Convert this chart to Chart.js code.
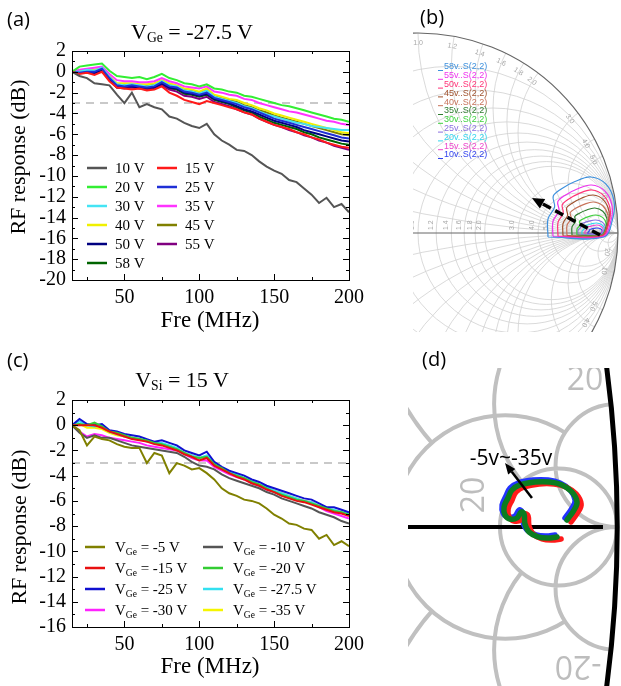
<!DOCTYPE html>
<html>
<head>
<meta charset="utf-8">
<script src="https://cdn.jsdelivr.net/npm/chart.js@4.4.0/dist/chart.umd.min.js"></script>
<style>
body { margin: 0; background: #fff; }
#fig { position: relative; width: 621px; height: 686px; overflow: hidden; background: #fff; }
canvas { position: absolute; }
.t { position: absolute; white-space: nowrap; line-height: 1; color: #000; }
.serif { font-family: "Liberation Serif", "Times New Roman", serif; }
.lab { font-family: "Open Sans", sans-serif; font-size: 20px; }
.sub { font-size: 62%; position: relative; top: 0.22em; }
</style>
</head>
<body>
<div id="fig">
  <canvas id="cA" width="370" height="335" style="left:0;top:0"></canvas>
  <canvas id="cB" width="208" height="332" style="left:413px;top:0"></canvas>
  <canvas id="cC" width="370" height="351" style="left:0;top:335px"></canvas>
  <canvas id="cD" width="213" height="318" style="left:408px;top:368px"></canvas>

  <div class="t lab" style="left:7px;top:9px">(a)</div>
  <div class="t lab" style="left:420px;top:7px">(b)</div>
  <div class="t lab" style="left:7px;top:350px">(c)</div>
  <div class="t lab" style="left:422px;top:349px">(d)</div>

  <div class="t serif" style="left:192px;top:21px;font-size:22px;transform:translateX(-50%)">V<span class="sub">Ge</span> = -27.5 V</div>
  <div class="t serif" style="left:210px;top:308px;font-size:23px;transform:translateX(-50%)">Fre (MHz)</div>
  <div class="t serif" style="left:18px;top:157px;font-size:22px;transform:translate(-50%,-50%) rotate(-90deg)">RF response (dB)</div>

  <div class="t serif" style="left:182px;top:369px;font-size:22px;transform:translateX(-50%)">V<span class="sub">Si</span> = 15 V</div>
  <div class="t serif" style="left:210px;top:654px;font-size:23px;transform:translateX(-50%)">Fre (MHz)</div>
  <div class="t serif" style="left:19px;top:527px;font-size:22px;transform:translate(-50%,-50%) rotate(-90deg)">RF response (dB)</div>
</div>

<script>
// ---- data: frequency axis (MHz) shared by (a) and (c)
const freqMHz = [15,20,25,30,35,40,45,50,55,60,65,70,75,80,85,90,95,100,105,110,115,120,125,130,135,140,145,150,155,160,165,170,175,180,185,190,195,200];
const freqTicks = [50, 100, 150, 200];
const refLevel = -3;

// ---- (a) V_Ge = -27.5 V, RF response (dB) for each V_Si
const rf10V = [0,-0.4,-0.6,-1.1,-1.2,-1.3,-2.2,-3.0,-2.0,-3.4,-3.1,-3.4,-3.6,-4.3,-4.5,-4.9,-5.2,-5.4,-5.0,-6.0,-6.6,-7.0,-7.5,-7.6,-8.0,-8.6,-9.1,-9.5,-9.8,-10.4,-10.6,-11.2,-11.8,-12.6,-12.1,-13.0,-12.7,-13.5];
const rf15V = [0,-0.2,-0.1,-0.3,0.0,-0.9,-1.5,-1.6,-1.7,-1.6,-1.8,-1.7,-1.4,-2.0,-2.3,-2.7,-2.9,-3.1,-2.8,-3.0,-3.2,-3.4,-3.6,-3.9,-4.1,-4.5,-4.8,-5.1,-5.3,-5.5,-5.8,-6.0,-6.3,-6.5,-6.8,-7.0,-7.2,-7.3];
const rf20V = [0,0.5,0.6,0.7,0.8,0.1,-0.4,-0.5,-0.6,-0.5,-0.7,-0.5,-0.2,-0.6,-0.8,-1.1,-1.2,-1.4,-1.2,-1.6,-1.7,-1.9,-2.0,-2.3,-2.4,-2.6,-2.8,-3.0,-3.2,-3.3,-3.5,-3.7,-3.9,-4.1,-4.3,-4.5,-4.6,-4.8];
const rf25V = [0,-0.1,0.0,0.0,0.3,-0.6,-1.3,-1.4,-1.3,-1.4,-1.5,-1.4,-1.0,-1.4,-1.5,-1.9,-2.0,-2.2,-2.0,-2.5,-2.7,-2.9,-3.1,-3.4,-3.6,-3.9,-4.2,-4.5,-4.7,-4.9,-5.1,-5.3,-5.5,-5.7,-5.9,-6.1,-6.3,-6.4];
const rf30V = [0,0.0,0.2,0.1,0.4,-0.5,-1.2,-1.3,-1.2,-1.3,-1.4,-1.3,-0.9,-1.3,-1.4,-1.8,-1.9,-2.1,-1.8,-2.4,-2.6,-2.8,-3.0,-3.3,-3.5,-3.8,-4.1,-4.3,-4.5,-4.7,-4.9,-5.0,-5.2,-5.3,-5.4,-5.5,-5.6,-5.6];
const rf35V = [0,0.2,0.3,0.4,0.5,-0.2,-0.8,-0.9,-0.9,-1.0,-1.0,-0.9,-0.6,-0.9,-1.1,-1.4,-1.5,-1.6,-1.4,-1.9,-2.0,-2.2,-2.3,-2.6,-2.7,-3.0,-3.2,-3.4,-3.6,-3.8,-3.9,-4.1,-4.3,-4.5,-4.7,-4.8,-5.0,-5.1];
const rf40V = [0,0.1,0.2,0.2,0.4,-0.4,-1.1,-1.1,-1.1,-1.2,-1.2,-1.1,-0.8,-1.1,-1.3,-1.6,-1.7,-1.9,-1.6,-2.2,-2.4,-2.6,-2.7,-3.0,-3.2,-3.5,-3.7,-4.0,-4.2,-4.4,-4.6,-4.8,-5.0,-5.2,-5.4,-5.6,-5.8,-5.9];
const rf45V = [0,0.0,0.1,0.1,0.3,-0.5,-1.2,-1.2,-1.2,-1.3,-1.3,-1.2,-0.9,-1.2,-1.4,-1.7,-1.8,-2.0,-1.8,-2.3,-2.5,-2.7,-2.9,-3.2,-3.4,-3.7,-3.9,-4.2,-4.4,-4.6,-4.8,-5.0,-5.2,-5.4,-5.6,-5.8,-6.0,-6.1];
const rf50V = [0,-0.1,0.0,-0.1,0.2,-0.7,-1.4,-1.4,-1.4,-1.5,-1.5,-1.5,-1.1,-1.5,-1.6,-2.0,-2.1,-2.3,-2.1,-2.6,-2.8,-3.0,-3.3,-3.6,-3.8,-4.1,-4.4,-4.7,-4.9,-5.1,-5.3,-5.6,-5.8,-6.0,-6.2,-6.4,-6.6,-6.7];
const rf55V = [0,-0.1,0.0,-0.2,0.1,-0.8,-1.5,-1.6,-1.5,-1.6,-1.7,-1.6,-1.3,-1.7,-1.9,-2.3,-2.4,-2.6,-2.4,-2.9,-3.1,-3.3,-3.6,-3.9,-4.1,-4.5,-4.8,-5.1,-5.3,-5.6,-5.8,-6.1,-6.3,-6.6,-6.8,-7.1,-7.3,-7.5];
const rf58V = [0,0.0,0.0,-0.2,0.1,-0.8,-1.5,-1.5,-1.4,-1.5,-1.6,-1.5,-1.2,-1.6,-1.7,-2.1,-2.2,-2.4,-2.2,-2.7,-2.9,-3.1,-3.4,-3.7,-3.9,-4.3,-4.6,-4.9,-5.1,-5.3,-5.5,-5.8,-6.0,-6.3,-6.5,-6.7,-6.9,-7.0];
const namesA = ['10 V','15 V','20 V','25 V','30 V','35 V','40 V','45 V','50 V','55 V','58 V'];
const seriesA = [rf10V, rf15V, rf20V, rf25V, rf30V, rf35V, rf40V, rf45V, rf50V, rf55V, rf58V];
const colorsA = ['#555555','#ff1a1a','#33ee33','#1f2fd6','#44e4f4','#ff33ff','#f0f000','#808000','#000080','#800080','#006400'];

// ---- (c) V_Si = 15 V, RF response (dB) for each V_Ge
const rfGe5   = [0,-0.4,-1.6,-0.9,-1.1,-1.2,-1.5,-1.7,-1.8,-1.8,-3.0,-2.2,-2.4,-3.8,-3.0,-3.2,-3.5,-3.4,-3.8,-4.3,-5.0,-5.4,-5.6,-5.9,-6.0,-6.2,-6.6,-7.1,-7.4,-7.8,-7.9,-8.2,-8.3,-9.0,-8.7,-9.5,-9.2,-9.6];
const rfGe10  = [0,-0.6,-1.0,-0.8,-1.0,-1.0,-1.2,-1.4,-1.6,-1.7,-1.8,-1.9,-2.0,-2.1,-2.2,-2.5,-2.9,-3.2,-3.3,-3.5,-3.9,-4.2,-4.4,-4.6,-4.8,-5.0,-5.3,-5.5,-5.8,-6.0,-6.2,-6.4,-6.6,-6.9,-7.1,-7.3,-7.6,-7.8];
const rfGe15  = [0,0.0,0.0,0.0,-0.2,-0.5,-0.7,-0.9,-1.1,-1.2,-1.3,-1.5,-1.6,-1.8,-2.0,-2.3,-2.5,-2.8,-2.6,-3.2,-3.5,-3.8,-4.1,-4.3,-4.6,-4.8,-5.1,-5.3,-5.6,-5.8,-6.0,-6.1,-6.3,-6.5,-6.7,-6.9,-7.0,-7.2];
const rfGe20  = [0,0.1,0.0,0.2,-0.1,-0.5,-0.6,-0.8,-1.0,-1.1,-1.2,-1.4,-1.5,-1.7,-1.9,-2.2,-2.5,-2.6,-2.5,-3.1,-3.4,-3.8,-4.0,-4.2,-4.5,-4.7,-5.0,-5.3,-5.5,-5.7,-5.9,-6.0,-6.2,-6.4,-6.6,-6.8,-6.9,-7.1];
const rfGe25  = [0,0.5,0.1,0.0,0.1,-0.4,-0.5,-0.7,-0.8,-0.9,-1.1,-1.3,-1.2,-1.4,-1.6,-2.0,-2.2,-2.4,-2.1,-2.9,-3.3,-3.6,-3.8,-4.0,-4.3,-4.5,-4.8,-5.0,-5.2,-5.4,-5.6,-5.8,-5.9,-6.2,-6.5,-6.5,-6.7,-6.9];
const rfGe275 = [0,0.3,0.0,-0.1,0.0,-0.5,-0.7,-0.9,-1.0,-1.1,-1.3,-1.4,-1.4,-1.6,-1.8,-2.2,-2.4,-2.6,-2.4,-3.0,-3.4,-3.7,-3.9,-4.2,-4.4,-4.7,-4.9,-5.2,-5.4,-5.6,-5.8,-6.0,-6.1,-6.4,-6.6,-6.7,-6.9,-7.0];
const rfGe30  = [0,-0.5,-0.9,-0.7,-0.8,-1.0,-1.1,-1.2,-1.3,-1.4,-1.6,-1.7,-1.8,-1.9,-2.0,-2.3,-2.6,-2.8,-2.8,-3.3,-3.6,-3.9,-4.1,-4.3,-4.6,-4.8,-5.1,-5.3,-5.5,-5.7,-5.9,-6.0,-6.1,-6.5,-6.8,-7.0,-7.2,-7.4];
const rfGe35  = [0,0.1,-0.2,-0.2,-0.3,-0.6,-0.8,-0.9,-1.0,-1.1,-1.3,-1.4,-1.5,-1.6,-1.9,-2.2,-2.4,-2.6,-2.5,-3.1,-3.5,-3.8,-4.0,-4.2,-4.5,-4.7,-5.0,-5.2,-5.4,-5.6,-5.8,-6.0,-6.1,-6.4,-6.6,-6.8,-6.9,-7.1];
const vGe = ['-5','-10','-15','-20','-25','-27.5','-30','-35'];
const seriesC = [rfGe5, rfGe10, rfGe15, rfGe20, rfGe25, rfGe275, rfGe30, rfGe35];
const colorsC = ['#808000','#555555','#e81010','#33cc33','#1010d0','#33e0f0','#ff22ff','#f5f500'];

// ---- (b) S(2,2) traces, [Re, Im] of reflection coefficient
const s22_58v = [[0.650,-0.020],[0.650,0.070],[0.683,0.130],[0.676,0.184],[0.716,0.220],[0.782,0.256],[0.865,0.280],[0.940,0.244],[0.980,0.160],[0.973,0.070],[0.930,-0.020],[0.650,-0.020]];
const s22_55v = [[0.675,-0.018],[0.675,0.059],[0.705,0.111],[0.699,0.157],[0.734,0.188],[0.793,0.219],[0.867,0.240],[0.935,0.209],[0.970,0.137],[0.964,0.059],[0.926,-0.018],[0.675,-0.018]];
const s22_50v = [[0.700,-0.016],[0.700,0.053],[0.726,0.100],[0.721,0.141],[0.752,0.169],[0.804,0.197],[0.869,0.215],[0.929,0.187],[0.960,0.123],[0.955,0.053],[0.921,-0.016],[0.700,-0.016]];
const s22_45v = [[0.725,-0.014],[0.725,0.047],[0.748,0.088],[0.743,0.125],[0.771,0.149],[0.817,0.174],[0.875,0.190],[0.927,0.166],[0.955,0.108],[0.950,0.047],[0.921,-0.014],[0.725,-0.014]];
const s22_40v = [[0.745,-0.012],[0.745,0.038],[0.766,0.072],[0.761,0.102],[0.786,0.122],[0.827,0.142],[0.878,0.155],[0.925,0.135],[0.950,0.088],[0.946,0.038],[0.919,-0.012],[0.745,-0.012]];
const s22_35v = [[0.770,-0.010],[0.770,0.031],[0.788,0.058],[0.784,0.082],[0.805,0.098],[0.840,0.114],[0.884,0.125],[0.924,0.109],[0.945,0.071],[0.941,0.031],[0.919,-0.010],[0.770,-0.010]];
const s22_30v = [[0.795,-0.010],[0.795,0.020],[0.810,0.040],[0.807,0.058],[0.824,0.070],[0.853,0.082],[0.889,0.090],[0.923,0.078],[0.940,0.050],[0.937,0.020],[0.918,-0.010],[0.795,-0.010]];
const s22_25v = [[0.800,-0.008],[0.800,0.014],[0.814,0.029],[0.811,0.042],[0.827,0.050],[0.854,0.059],[0.888,0.065],[0.919,0.056],[0.935,0.036],[0.932,0.014],[0.915,-0.008],[0.800,-0.008]];
const s22_20v = [[0.820,-0.008],[0.820,0.009],[0.831,0.021],[0.829,0.031],[0.842,0.038],[0.864,0.045],[0.892,0.050],[0.917,0.043],[0.930,0.027],[0.928,0.009],[0.914,-0.008],[0.820,-0.008]];
const s22_15v = [[0.835,-0.006],[0.835,0.008],[0.844,0.017],[0.842,0.025],[0.853,0.031],[0.871,0.036],[0.894,0.040],[0.914,0.034],[0.925,0.022],[0.923,0.008],[0.912,-0.006],[0.835,-0.006]];
const s22_10v = [[0.850,-0.005],[0.850,0.004],[0.857,0.010],[0.856,0.015],[0.864,0.019],[0.878,0.023],[0.896,0.025],[0.912,0.021],[0.920,0.013],[0.919,0.004],[0.910,-0.005],[0.850,-0.005]];
const namesB = ['58v..S(2,2)','55v..S(2,2)','50v..S(2,2)','45v..S(2,2)','40v..S(2,2)','35v..S(2,2)','30v..S(2,2)','25v..S(2,2)','20v..S(2,2)','15v..S(2,2)','10v..S(2,2)'];
const seriesB = [s22_58v, s22_55v, s22_50v, s22_45v, s22_40v, s22_35v, s22_30v, s22_25v, s22_20v, s22_15v, s22_10v];
const colorsB = ['#3d90dd','#ee33ee','#ff3377','#a0522d','#c8735a','#2e7d2e','#3fd13f','#8a6fe0','#33d5ee','#ee44cc','#3344ee'];
const rimLabels = ['1.0','1.2','1.4','1.6','1.8','2.0','3.0','4.0','5.0','10','20'];
const axisLabels = ['1.0','1.2','1.4','1.6','1.8','2.0','3.0','4.0','5.0'];
const gridR = [0.2,0.4,0.6,0.8,1,1.2,1.4,1.6,1.8,2,3,4,5,10,20];
const gridX = [0.2,0.4,0.6,0.8,1,1.2,1.4,1.6,1.8,2,3,4,5,10,20];

// ---- (d) zoomed S(2,2), V_Ge = -5 ... -35 V
const s22d_green = [[0.9593,0.0057],[0.9650,0.0138],[0.9675,0.0203],[0.9634,0.0285],[0.9552,0.0342],[0.9455,0.0366],[0.9333,0.0366],[0.9211,0.0342],[0.9146,0.0301],[0.9113,0.0236],[0.9081,0.0163],[0.9089,0.0098],[0.9129,0.0065],[0.9186,0.0073],[0.9219,0.0122],[0.9243,0.0106],[0.9251,0.0024],[0.9284,-0.0041],[0.9357,-0.0081],[0.9439,-0.0090],[0.9512,-0.0081]];
const s22d_red = [[0.9626,0.0041],[0.9683,0.0122],[0.9708,0.0187],[0.9667,0.0269],[0.9585,0.0326],[0.9488,0.0350],[0.9366,0.0350],[0.9244,0.0326],[0.9179,0.0285],[0.9146,0.0220],[0.9114,0.0147],[0.9122,0.0082],[0.9162,0.0049],[0.9219,0.0057],[0.9252,0.0106],[0.9276,0.0090],[0.9284,0.0008],[0.9317,-0.0057],[0.9390,-0.0097],[0.9472,-0.0106],[0.9545,-0.0097]];
const s22d_blue = [[0.9577,0.0073],[0.9634,0.0154],[0.9659,0.0219],[0.9618,0.0301],[0.9536,0.0358],[0.9439,0.0382],[0.9317,0.0382],[0.9195,0.0358],[0.9130,0.0317],[0.9097,0.0252],[0.9065,0.0179],[0.9073,0.0114],[0.9113,0.0081],[0.9170,0.0089],[0.9203,0.0138],[0.9227,0.0122],[0.9235,0.0040],[0.9268,-0.0025],[0.9341,-0.0065],[0.9423,-0.0074],[0.9496,-0.0065]];

const serif = '"Liberation Serif", "Times New Roman", serif';

function drawArrow(ctx, x1, y1, x2, y2, lw, dash, hl, hw) {
  const ang = Math.atan2(y2 - y1, x2 - x1);
  const bx = x2 - hl * Math.cos(ang), by = y2 - hl * Math.sin(ang);
  ctx.save();
  ctx.strokeStyle = '#000'; ctx.fillStyle = '#000'; ctx.lineWidth = lw;
  ctx.setLineDash(dash);
  ctx.beginPath(); ctx.moveTo(x1, y1); ctx.lineTo(bx, by); ctx.stroke();
  ctx.setLineDash([]);
  ctx.beginPath();
  ctx.moveTo(x2, y2);
  ctx.lineTo(bx + hw / 2 * Math.sin(ang), by - hw / 2 * Math.cos(ang));
  ctx.lineTo(bx - hw / 2 * Math.sin(ang), by + hw / 2 * Math.cos(ang));
  ctx.closePath(); ctx.fill();
  ctx.restore();
}

// frame, inward ticks, dashed -3 dB line, legend for (a) and (c)
const rfPlugin = {
  id: 'rf',
  beforeDatasetsDraw(chart, args, o) {
    const {ctx, chartArea: a, scales: {y}} = chart;
    const py = y.getPixelForValue(refLevel);
    ctx.save();
    ctx.strokeStyle = '#b8b8b8'; ctx.lineWidth = 1.6; ctx.setLineDash([8, 6]);
    ctx.beginPath(); ctx.moveTo(a.left, py); ctx.lineTo(a.right, py); ctx.stroke();
    ctx.restore();
  },
  afterDatasetsDraw(chart, args, o) {
    const {ctx, chartArea: a, scales: {x, y}} = chart;
    ctx.save();
    ctx.strokeStyle = '#000'; ctx.lineWidth = 1;
    ctx.strokeRect(a.left + 0.5, a.top + 0.5, a.right - a.left, a.bottom - a.top);
    ctx.beginPath();
    for (let f = 25; f <= 200; f += 25) {
      const px = Math.round(x.getPixelForValue(f)) + 0.5;
      const len = f % 50 === 0 ? 6 : 3;
      ctx.moveTo(px, a.bottom); ctx.lineTo(px, a.bottom - len);
      ctx.moveTo(px, a.top); ctx.lineTo(px, a.top + len);
    }
    for (let v = y.min; v <= y.max; v += 1) {
      const py = Math.round(y.getPixelForValue(v)) + 0.5;
      const len = v % 2 === 0 ? 6 : 3;
      ctx.moveTo(a.left, py); ctx.lineTo(a.left + len, py);
      ctx.moveTo(a.right, py); ctx.lineTo(a.right - len, py);
    }
    ctx.stroke();

    // legend, two columns, row-major order
    chart.data.datasets.forEach((ds, i) => {
      const col = i % 2, row = Math.floor(i / 2);
      const ly = o.legY + row * o.legDy;
      ctx.strokeStyle = ds.borderColor; ctx.lineWidth = 2.5;
      ctx.beginPath(); ctx.moveTo(o.legX[col], ly); ctx.lineTo(o.legX[col] + 20, ly); ctx.stroke();
      ctx.fillStyle = '#000'; ctx.textBaseline = 'alphabetic'; ctx.textAlign = 'left';
      let tx = o.textX[col];
      const base = ly + 5;
      if (o.sub) {
        ctx.font = '15px ' + serif;
        ctx.fillText('V', tx, base); tx += ctx.measureText('V').width;
        ctx.font = '9.5px ' + serif;
        ctx.fillText('Ge', tx, base + 3); tx += ctx.measureText('Ge').width;
        ctx.font = '15px ' + serif;
        ctx.fillText(' = ' + vGe[i] + ' V', tx, base);
      } else {
        ctx.font = '15px ' + serif;
        ctx.fillText(ds.label, tx, base);
      }
    });
    ctx.restore();
  }
};

function rfChart(id, series, names, colors, yMin, yMax, topPad, xH, leg) {
  return new Chart(document.getElementById(id), {
    type: 'line',
    data: {
      datasets: series.map((s, i) => ({
        label: names[i],
        data: freqMHz.map((f, j) => ({x: f, y: s[j]})),
        borderColor: colors[i],
        borderWidth: 2,
        pointRadius: 0,
        tension: 0
      }))
    },
    options: {
      responsive: false,
      animation: false,
      events: [],
      layout: {padding: {top: topPad, right: 17, left: 0, bottom: 0}},
      scales: {
        x: {
          type: 'linear', min: 15, max: 200,
          grid: {display: false, drawTicks: false},
          border: {display: false},
          afterBuildTicks: s => { s.ticks = freqTicks.map(v => ({value: v})); },
          afterFit: s => { s.height = xH; },
          ticks: {autoSkip: false, maxRotation: 0, padding: 6, color: '#000', font: {family: serif, size: 20}}
        },
        y: {
          min: yMin, max: yMax,
          grid: {display: false, drawTicks: false},
          border: {display: false},
          afterFit: s => { s.width = 72; },
          ticks: {stepSize: 2, autoSkip: false, padding: 6, color: '#000', font: {family: serif, size: 20}}
        }
      },
      plugins: {legend: {display: false}, tooltip: {enabled: false}, rf: leg}
    },
    plugins: [rfPlugin]
  });
}

rfChart('cA', seriesA, namesA, colorsA, -20, 2, 51, 55,
  {legX: [87, 157], textX: [115, 185], legY: 168, legDy: 19, sub: false});
rfChart('cC', seriesC, vGe.map(v => 'VGe = ' + v + ' V'), colorsC, -16, 2, 65, 59,
  {legX: [85, 203], textX: [115, 233], legY: 212, legDy: 21, sub: true});

// ---- Smith chart (b)
const smithB = {
  id: 'smithB',
  beforeDatasetsDraw(chart) {
    const {ctx, scales: {x, y}} = chart;
    const u = x.getPixelForValue(1) - x.getPixelForValue(0);
    const P = (gx, gy) => [x.getPixelForValue(gx), y.getPixelForValue(gy)];
    const [ox, oy] = P(0, 0);
    ctx.save();
    ctx.beginPath(); ctx.arc(ox, oy, u, 0, 2 * Math.PI); ctx.clip();
    ctx.strokeStyle = '#d0d0d0'; ctx.lineWidth = 0.8;
    gridR.forEach(r => {
      const [cx, cy] = P(r / (1 + r), 0);
      ctx.beginPath(); ctx.arc(cx, cy, u / (1 + r), 0, 2 * Math.PI); ctx.stroke();
    });
    gridX.forEach(v => [v, -v].forEach(s => {
      const [cx, cy] = P(1, 1 / s);
      ctx.beginPath(); ctx.arc(cx, cy, u / Math.abs(s), 0, 2 * Math.PI); ctx.stroke();
    }));
    ctx.restore();

    ctx.save();
    ctx.strokeStyle = '#666'; ctx.lineWidth = 1.2;
    ctx.beginPath(); ctx.arc(ox, oy, u, 0, 2 * Math.PI); ctx.stroke();
    ctx.lineWidth = 1;
    ctx.beginPath(); ctx.moveTo(0, oy); ctx.lineTo(ox + u, oy); ctx.stroke();

    ctx.fillStyle = '#a8a8a8'; ctx.font = '7px "Liberation Sans", sans-serif';
    rimLabels.forEach(t => {
      const v = parseFloat(t);
      [1, -1].forEach(sg => {
        const th = sg * 2 * Math.atan(1 / v);
        const [px, py] = P(0.95 * Math.cos(th), 0.95 * Math.sin(th));
        ctx.save(); ctx.translate(px, py); ctx.rotate(Math.PI / 2 - th);
        ctx.textAlign = 'center'; ctx.textBaseline = 'middle';
        ctx.fillText(t, 0, 0); ctx.restore();
      });
    });
    axisLabels.forEach(t => {
      const r = parseFloat(t);
      const [px, py] = P((r - 1) / (r + 1), 0);
      ctx.save(); ctx.translate(px - 2, py - 3); ctx.rotate(-Math.PI / 2);
      ctx.textAlign = 'left'; ctx.textBaseline = 'bottom';
      ctx.fillText(t, 0, 0); ctx.restore();
    });
    ctx.restore();
  },
  afterDatasetsDraw(chart) {
    const {ctx, scales: {x, y}} = chart;
    const P = (gx, gy) => [x.getPixelForValue(gx), y.getPixelForValue(gy)];
    const [t0, t1] = P(0.91, -0.01), [h0, h1] = P(0.57, 0.175);
    drawArrow(ctx, t0, t1, h0, h1, 3.5, [9, 5], 12, 11);
    ctx.save();
    ctx.font = '9px "Liberation Sans", sans-serif';
    ctx.textBaseline = 'middle'; ctx.textAlign = 'left';
    chart.data.datasets.forEach((ds, i) => {
      const ly = 67 + i * 8.8;
      ctx.strokeStyle = ds.borderColor; ctx.lineWidth = 1;
      ctx.beginPath(); ctx.moveTo(25, ly + 3.5); ctx.lineTo(30, ly + 3.5); ctx.stroke();
      ctx.fillStyle = ds.borderColor;
      ctx.fillText(ds.label, 31, ly);
    });
    ctx.restore();
  }
};

new Chart(document.getElementById('cB'), {
  type: 'scatter',
  data: {
    datasets: seriesB.map((s, i) => ({
      label: namesB[i],
      data: s.map(p => ({x: p[0], y: p[1]})),
      showLine: true,
      borderColor: colorsB[i],
      borderWidth: 1.2,
      pointRadius: 0,
      tension: 0.35
    }))
  },
  options: {
    responsive: false, animation: false, events: [],
    layout: {padding: 0},
    scales: {
      x: {type: 'linear', display: false, min: -0.025, max: 1.015},
      y: {type: 'linear', display: false, min: -0.495, max: 1.165}
    },
    plugins: {legend: {display: false}, tooltip: {enabled: false}}
  },
  plugins: [smithB]
});

// ---- Smith chart zoom (d)
const smithD = {
  id: 'smithD',
  beforeDatasetsDraw(chart) {
    const {ctx, chartArea: a, scales: {x, y}} = chart;
    const u = x.getPixelForValue(1) - x.getPixelForValue(0);
    const P = (gx, gy) => [x.getPixelForValue(gx), y.getPixelForValue(gy)];
    const circ = (gx, gy, r) => {
      const [cx, cy] = P(gx, gy);
      ctx.moveTo(cx + r * u, cy); ctx.arc(cx, cy, r * u, 0, 2 * Math.PI);
    };
    const rC = r => circ(r / (1 + r), 0, 1 / (1 + r));
    const xC = v => circ(1, 1 / v, 1 / Math.abs(v));
    const outside = fn => {
      ctx.beginPath(); ctx.rect(a.left - 5, a.top - 5, a.width + 10, a.height + 10); fn(); ctx.clip('evenodd');
    };
    ctx.save();
    ctx.beginPath(); circ(0, 0, 1); ctx.clip();
    ctx.strokeStyle = '#c0c0c0'; ctx.lineWidth = 4;
    ctx.beginPath(); rC(20); xC(20); xC(-20); ctx.stroke();
    ctx.save(); outside(() => { xC(20); xC(-20); });
    ctx.beginPath(); rC(10); ctx.stroke(); ctx.restore();
    ctx.save(); outside(() => rC(20));
    ctx.beginPath(); xC(10); xC(-10); ctx.stroke(); ctx.restore();
    ctx.save(); outside(() => rC(10));
    ctx.beginPath(); xC(5); xC(-5); ctx.stroke(); ctx.restore();
    ctx.restore();

    ctx.save();
    ctx.fillStyle = '#bdbdbd'; ctx.font = '32px "Open Sans", sans-serif';
    ctx.textAlign = 'center'; ctx.textBaseline = 'middle';
    let [lx, ly] = P(0.974, 0.1188);
    ctx.fillText('20', lx, ly);
    [lx, ly] = P(0.8845, 0.026);
    ctx.save(); ctx.translate(lx, ly); ctx.rotate(-Math.PI / 2); ctx.fillText('20', 0, 0); ctx.restore();
    [lx, ly] = P(0.9683, -0.1123);
    ctx.save(); ctx.translate(lx, ly); ctx.rotate(Math.PI); ctx.fillText('-20', 0, 0); ctx.restore();

    ctx.strokeStyle = '#000'; ctx.lineWidth = 4;
    const [a0x, a0y] = P(0.83, 0), [a1x] = P(0.9886, 0);
    ctx.beginPath(); ctx.moveTo(a0x - 5, a0y); ctx.lineTo(a1x, a0y); ctx.stroke();
    const [ox, oy] = P(0, 0);
    ctx.lineWidth = 5;
    ctx.beginPath(); ctx.arc(ox, oy, u, -0.2, 0.2); ctx.stroke();
    ctx.restore();
  },
  afterDatasetsDraw(chart) {
    const {ctx, scales: {x, y}} = chart;
    const P = (gx, gy) => [x.getPixelForValue(gx), y.getPixelForValue(gy)];
    const [t0, t1] = P(0.9308, 0.0236), [h0, h1] = P(0.9089, 0.0521);
    drawArrow(ctx, t0, t1, h0, h1, 2.5, [], 11, 9);
    ctx.save();
    ctx.fillStyle = '#000'; ctx.font = '21px "Open Sans", sans-serif';
    ctx.textAlign = 'center'; ctx.textBaseline = 'alphabetic';
    const [lx, ly] = P(0.9138, 0.0504);
    ctx.fillText('-5v~-35v', lx, ly);
    ctx.restore();
  }
};

const loopStyle = (data, color) => ({
  data: data.map(p => ({x: p[0], y: p[1]})),
  showLine: true, borderColor: color, borderWidth: 5.5, pointRadius: 0, tension: 0.4,
  borderCapStyle: 'round', borderJoinStyle: 'round'
});

new Chart(document.getElementById('cD'), {
  type: 'scatter',
  data: {
    datasets: [
      Object.assign({label: 'green'}, loopStyle(s22d_green, '#0b7d20')),
      Object.assign({label: 'red'}, loopStyle(s22d_red, '#ff1a1a')),
      Object.assign({label: 'blue'}, loopStyle(s22d_blue, '#2233ff'))
    ]
  },
  options: {
    responsive: false, animation: false, events: [],
    layout: {padding: 0},
    scales: {
      x: {type: 'linear', display: false, min: 0.82994, max: 1.003255},
      y: {type: 'linear', display: false, min: -0.12937, max: 0.12937}
    },
    plugins: {legend: {display: false}, tooltip: {enabled: false}}
  },
  plugins: [smithD]
});
</script>
</body>
</html>
